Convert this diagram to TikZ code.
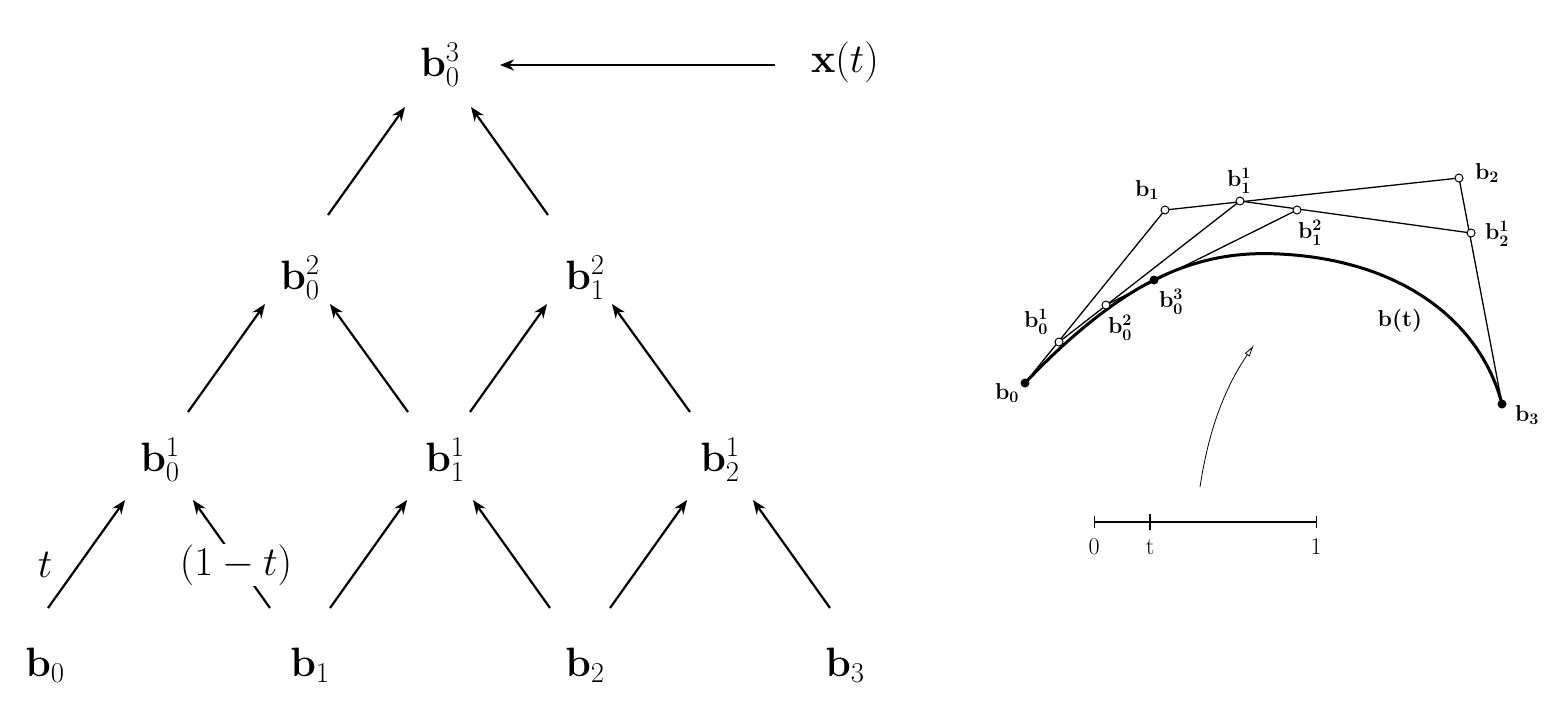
\documentclass[tikz,border=0pt]{standalone}
\usepackage{fix-cm}
\usetikzlibrary{calc,arrows.meta}
\begin{document}
\begin{tikzpicture}[x=1pt,y=-1pt,
  big/.style={font=\fontsize{41}{48}\selectfont,inner sep=0pt},
  sm/.style={font=\fontsize{23}{26}\selectfont\boldmath,inner sep=0pt},
  sc/.style={font=\fontsize{24}{26}\selectfont,inner sep=0pt},
  arr/.style={line width=2.2pt,-{Stealth[length=14pt,width=11pt]}},
  poly/.style={line width=1.3pt},
  od/.style={circle,draw,fill=white,line width=1pt,inner sep=0pt,minimum size=8pt},
  fd/.style={circle,fill=black,inner sep=0pt,minimum size=9pt}]
\useasboundingbox (0,0) rectangle (1568,710);
% tree
\node[big] (b03) at (440,65) {$\mathbf{b}_0^3$};
\node[big] (x) at (845,62) {$\mathbf{x}(t)$};
\node[big] (b02) at (300,278) {$\mathbf{b}_0^2$};
\node[big] (b12) at (585,278) {$\mathbf{b}_1^2$};
\node[big] (b01) at (160,460) {$\mathbf{b}_0^1$};
\node[big] (b11) at (445,460) {$\mathbf{b}_1^1$};
\node[big] (b21) at (720,460) {$\mathbf{b}_2^1$};
\node[big] (b0) at (45,665) {$\mathbf{b}_0$};
\node[big] (b1) at (310,665) {$\mathbf{b}_1$};
\node[big] (b2) at (585,665) {$\mathbf{b}_2$};
\node[big] (b3) at (845,665) {$\mathbf{b}_3$};
\draw[arr] ($(x)+(775-845,3)$) -- ($(b03)+(500-440,0)$);
\draw[arr] ($(b0)+(48-45,608-665)$) -- ($(b01)+(125-160,500-460)$);
\draw[arr] ($(b1)+(270-310,608-665)$) -- ($(b01)+(193-160,500-460)$);
\draw[arr] ($(b1)+(330-310,608-665)$) -- ($(b11)+(407-445,500-460)$);
\draw[arr] ($(b2)+(550-585,608-665)$) -- ($(b11)+(473-445,500-460)$);
\draw[arr] ($(b2)+(610-585,608-665)$) -- ($(b21)+(687-720,500-460)$);
\draw[arr] ($(b3)+(830-845,608-665)$) -- ($(b21)+(753-720,500-460)$);
\draw[arr] ($(b01)+(188-160,412-460)$) -- ($(b02)+(265-300,304-278)$);
\draw[arr] ($(b11)+(408-445,412-460)$) -- ($(b02)+(330-300,304-278)$);
\draw[arr] ($(b11)+(470-445,412-460)$) -- ($(b12)+(547-585,304-278)$);
\draw[arr] ($(b21)+(690-720,412-460)$) -- ($(b12)+(612-585,304-278)$);
\draw[arr] ($(b02)+(328-300,215-278)$) -- ($(b03)+(405-440,107-65)$);
\draw[arr] ($(b12)+(548-585,215-278)$) -- ($(b03)+(471-440,107-65)$);
\node[big] (t) at (45,565) {$t$};
\node[big,fill=white,inner sep=1pt] (omt) at (236,565) {$(1-t)$};
% right figure
\coordinate (P0) at (1025,383);
\coordinate (P1) at (1165,210);
\coordinate (P2) at (1459,178);
\coordinate (P3) at (1502,404);
\coordinate (Q0) at (1059,342);
\coordinate (Q1) at (1240,201);
\coordinate (Q2) at (1471,233);
\coordinate (R0) at (1106,305);
\coordinate (R1) at (1297,210);
\coordinate (S0) at (1154,280);
\draw[poly] (P0) -- (P1) -- (P2) -- (P3);
\draw[poly] (Q0) -- (Q1) -- (Q2);
\draw[poly] (R0) -- (R1);
\draw[line width=3pt] (P0) .. controls (1075,330) and (1120,297) .. (S0) .. controls (1200,257) and (1240,252) .. (1280,254) .. controls (1400,260) and (1480,320) .. (P3);
\node[fd] (n0) at (P0) {};
\node[fd] (n3) at (P3) {};
\node[fd] (s0) at (S0) {};
\node[od] (n1) at (P1) {};
\node[od] (n2) at (P2) {};
\node[od] (q0) at (Q0) {};
\node[od] (q1) at (Q1) {};
\node[od] (q2) at (Q2) {};
\node[od] (r0) at (R0) {};
\node[od] (r1) at (R1) {};
\node[sm] at (1007,393) {$\mathbf{b}_0$};
\node[sm] at (1147,190) {$\mathbf{b}_1$};
\node[sm] at (1487,173) {$\mathbf{b}_2$};
\node[sm] at (1527,415) {$\mathbf{b}_3$};
\node[sm] at (1036,322) {$\mathbf{b}_0^1$};
\node[sm] at (1239,181) {$\mathbf{b}_1^1$};
\node[sm] at (1497,234) {$\mathbf{b}_2^1$};
\node[sm] at (1120,328) {$\mathbf{b}_0^2$};
\node[sm] at (1310,233) {$\mathbf{b}_1^2$};
\node[sm] at (1171,302) {$\mathbf{b}_0^3$};
\node[sm] at (1400,321) {$\mathbf{b(t)}$};
\coordinate (a0) at (1200,487);
\coordinate (a1) at (1254,345);
\draw[line width=0.8pt,-{Latex[open,length=12pt,width=6pt]}] (a0) .. controls (1210,420) and (1230,380) .. (a1);
\coordinate (s0) at (1094,522);
\coordinate (s1) at (1316,522);
\draw[line width=1.3pt] (s0) -- (s1);
\draw[line width=1pt] (1094,516) -- (1094,528) (1316,516) -- (1316,528);
\draw[line width=1.6pt] (1150,514) -- (1150,530);
\node[sc] at (1094,547) {0};
\node[sc] at (1150,547) {t};
\node[sc] at (1316,547) {1};
\end{tikzpicture}
\end{document}
